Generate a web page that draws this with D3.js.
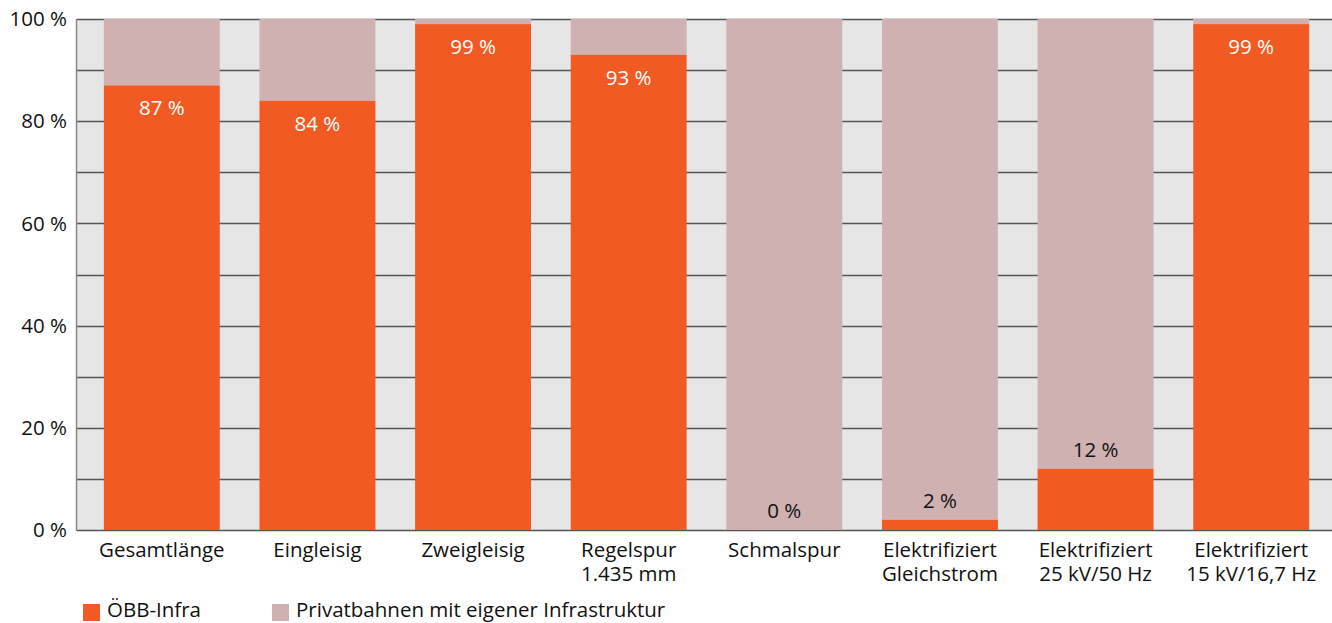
<!DOCTYPE html>
<html>
<head>
<meta charset="utf-8">
<script src="https://cdn.jsdelivr.net/npm/d3@7"></script>
<style>
  body { margin: 0; background: #fff; }
  svg { display: block; font-family: "Open Sans", sans-serif; }
</style>
</head>
<body>
<div id="chart"></div>
<script>
// data
const categories = [
    ["Gesamtlänge"],
    ["Eingleisig"],
    ["Zweigleisig"],
    ["Regelspur", "1.435 mm"],
    ["Schmalspur"],
    ["Elektrifiziert", "Gleichstrom"],
    ["Elektrifiziert", "25 kV/50 Hz"],
    ["Elektrifiziert", "15 kV/16,7 Hz"]
];
const oebbShare = [87, 84, 99, 93, 0, 2, 12, 99];
const privatShare = oebbShare.map(v => 100 - v);
const seriesNames = ["ÖBB-Infra", "Privatbahnen mit eigener Infrastruktur"];
const yTicks = [0, 20, 40, 60, 80, 100];

const COL = { oebb: "#F15A22", privat: "#CFB1B1", bg: "#E6E6E6", grid: "#555" };
const W = 1332, H = 623;
const FS = 20.5;
const plot = { left: 77, right: 1332, top: 19, bottom: 530 };

const svg = d3.select("#chart").append("svg")
    .attr("width", W).attr("height", H);

const x = d3.scaleBand()
    .domain(d3.range(categories.length))
    .range([84, 1329])
    .paddingInner(0.255)
    .paddingOuter(0.1275);
const y = d3.scaleLinear().domain([0, 100]).range([plot.bottom, plot.top]);

// plot background
svg.append("rect")
    .attr("x", plot.left).attr("y", plot.top)
    .attr("width", plot.right - plot.left).attr("height", plot.bottom - plot.top)
    .attr("fill", COL.bg);

// gridlines every 10 %
svg.append("g").selectAll("line")
    .data(d3.range(0, 101, 10))
    .join("line")
    .attr("x1", plot.left).attr("x2", plot.right)
    .attr("y1", d => Math.round(y(d)) + 0.5).attr("y2", d => Math.round(y(d)) + 0.5)
    .attr("stroke", COL.grid).attr("stroke-width", 1.3);

// left axis line
svg.append("line")
    .attr("x1", plot.left - 0.5).attr("x2", plot.left - 0.5)
    .attr("y1", plot.top).attr("y2", plot.bottom + 1)
    .attr("stroke", "#888").attr("stroke-width", 1.5);

// y tick labels
svg.append("g").selectAll("text")
    .data(yTicks)
    .join("text")
    .attr("x", 67).attr("y", d => y(d))
    .attr("dy", "0.35em")
    .attr("text-anchor", "end")
    .attr("font-size", FS).attr("fill", "#111")
    .text(d => d + " %");

// stacked bars
const bars = svg.append("g");
bars.selectAll("rect.privat")
    .data(privatShare)
    .join("rect").attr("class", "privat")
    .attr("x", (d, i) => x(i)).attr("width", x.bandwidth())
    .attr("y", y(100)).attr("height", (d, i) => y(oebbShare[i]) - y(100))
    .attr("fill", COL.privat);
bars.selectAll("rect.oebb")
    .data(oebbShare)
    .join("rect").attr("class", "oebb")
    .attr("x", (d, i) => x(i)).attr("width", x.bandwidth())
    .attr("y", d => y(d)).attr("height", d => y(0) - y(d))
    .attr("fill", COL.oebb);

// value labels: inside (white) for big bars, above (black) for small ones
svg.append("g").selectAll("text")
    .data(oebbShare)
    .join("text")
    .attr("x", (d, i) => x(i) + x.bandwidth() / 2)
    .attr("y", d => d > 50 ? y(d) + 30 : y(d) - 12)
    .attr("text-anchor", "middle")
    .attr("font-size", FS)
    .attr("fill", d => d > 50 ? "#fff" : "#111")
    .text(d => d + " %");

// category labels
const cat = svg.append("g").selectAll("text")
    .data(categories)
    .join("text")
    .attr("x", (d, i) => x(i) + x.bandwidth() / 2)
    .attr("y", 557)
    .attr("text-anchor", "middle")
    .attr("font-size", FS).attr("fill", "#111");
cat.selectAll("tspan")
    .data(d => d)
    .join("tspan")
    .attr("x", function () { return this.parentNode.getAttribute("x"); })
    .attr("dy", (d, i) => i ? 23.5 : 0)
    .text(d => d);

// legend
const legendX = [83, 272];
const legend = svg.append("g").selectAll("g")
    .data(seriesNames)
    .join("g")
    .attr("transform", (d, i) => `translate(${legendX[i]}, 604)`);
legend.append("rect")
    .attr("width", 17).attr("height", 17)
    .attr("fill", (d, i) => i ? COL.privat : COL.oebb);
legend.append("text")
    .attr("x", 24).attr("y", 13)
    .attr("font-size", FS).attr("fill", "#111")
    .text(d => d);
</script>
</body>
</html>
